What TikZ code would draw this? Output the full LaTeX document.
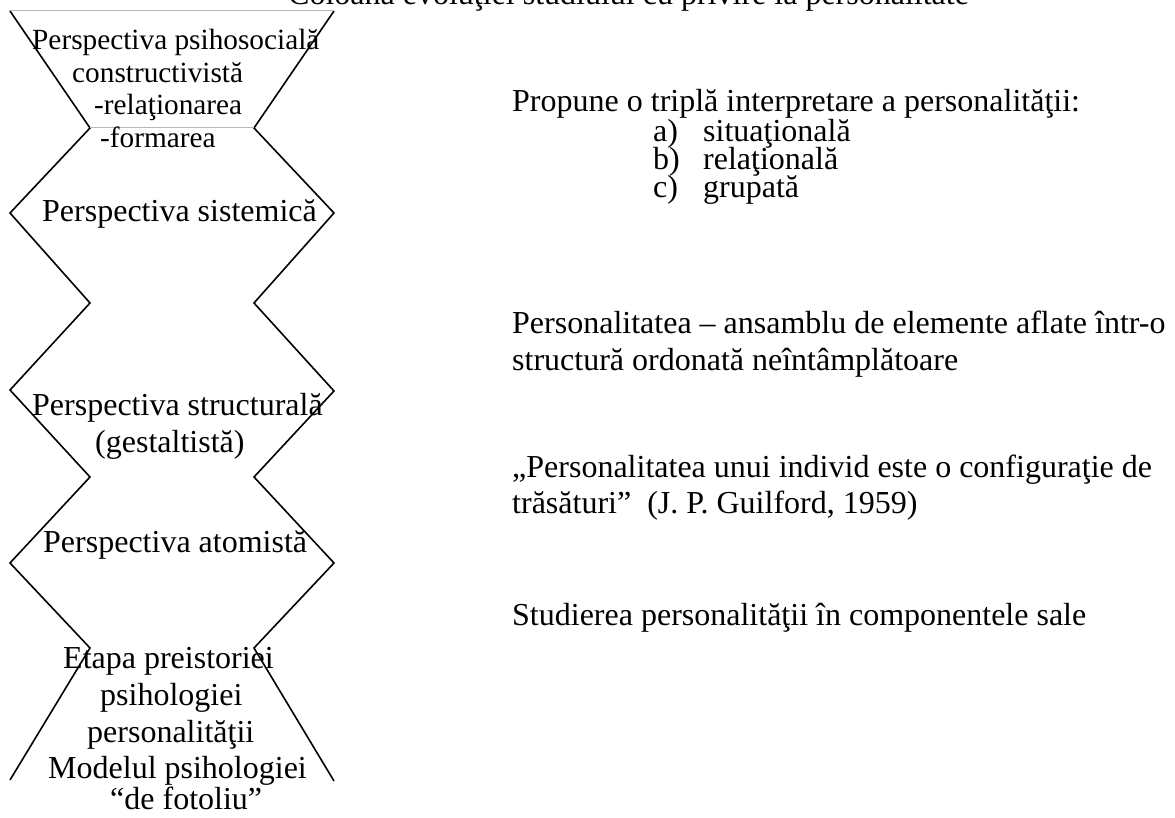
\documentclass[tikz,border=0pt]{standalone}
\usepackage{fontspec}
\setmainfont{Liberation Serif}
\begin{document}
\begin{tikzpicture}[x=1pt,y=-1pt,
  txt/.style={anchor=base west, inner sep=0pt, font=\fontsize{32}{36.8}\selectfont},
  smalltxt/.style={anchor=base west, inner sep=0pt, font=\fontsize{29.3}{33.7}\selectfont},
  outline/.style={line width=1.6pt, line join=miter},
  rule/.style={draw=black!28, line width=1pt}]
\useasboundingbox (0,0) rectangle (1175,818);
\clip (0,0) rectangle (1175,818);

% zigzag column
\draw[outline] (10,11) -- (90,128) -- (10,213) -- (90,303) -- (10,390)
  -- (90,477) -- (10,563) -- (90,648) -- (10,780);
\draw[outline] (334,11) -- (254,128) -- (334,213) -- (254,303) -- (334,391)
  -- (254,477) -- (334,563) -- (254,648) -- (334,781);
\draw[rule] (9,11) -- (334,11);
\draw[rule] (90,128) -- (254,128);

% title
\node[txt] (title) at (288,5) {Coloana evoluţiei studiului cu privire la personalitate};

% stages of the column
\node[smalltxt] (p1a) at (32,50) {Perspectiva psihosocială};
\node[smalltxt] (p1b) at (72,83) {constructivistă};
\node[smalltxt] (p1c) at (94,115) {-relaţionarea};
\node[smalltxt] (p1d) at (100,148) {-formarea};

\node[txt] (p2) at (42,222) {Perspectiva sistemică};

\node[txt] (p3a) at (32,415) {Perspectiva structurală};
\node[txt] (p3b) at (95,452) {(gestaltistă)};

\node[txt] (p4) at (43,552) {Perspectiva atomistă};

\node[txt] (p5a) at (63,668) {Etapa preistoriei};
\node[txt] (p5b) at (100,705) {psihologiei};
\node[txt] (p5c) at (87,742) {personalităţii};
\node[txt] (p5d) at (48,778) {Modelul psihologiei};
\node[txt] (p5e) at (110,809) {“de fotoliu”};

% descriptions
\node[txt] (d1) at (512,112) {Propune o triplă interpretare a personalităţii:};
\node[txt] (d1a) at (653,142) {a)};
\node[txt] (d1at) at (703,142) {situaţională};
\node[txt] (d1b) at (653,170) {b)};
\node[txt] (d1bt) at (703,170) {relaţională};
\node[txt] (d1c) at (653,198) {c)};
\node[txt] (d1ct) at (703,198) {grupată};

\node[txt] (d2a) at (512,333) {Personalitatea – ansamblu de elemente aflate într-o};
\node[txt] (d2b) at (512,370) {structură ordonată neîntâmplătoare};

\node[txt] (d3a) at (512,477) {„Personalitatea unui individ este o configuraţie de};
\node[txt] (d3b) at (512,513) {trăsături”~~(J. P. Guilford, 1959)};

\node[txt] (d4) at (512,625) {Studierea personalităţii în componentele sale};
\end{tikzpicture}
\end{document}
